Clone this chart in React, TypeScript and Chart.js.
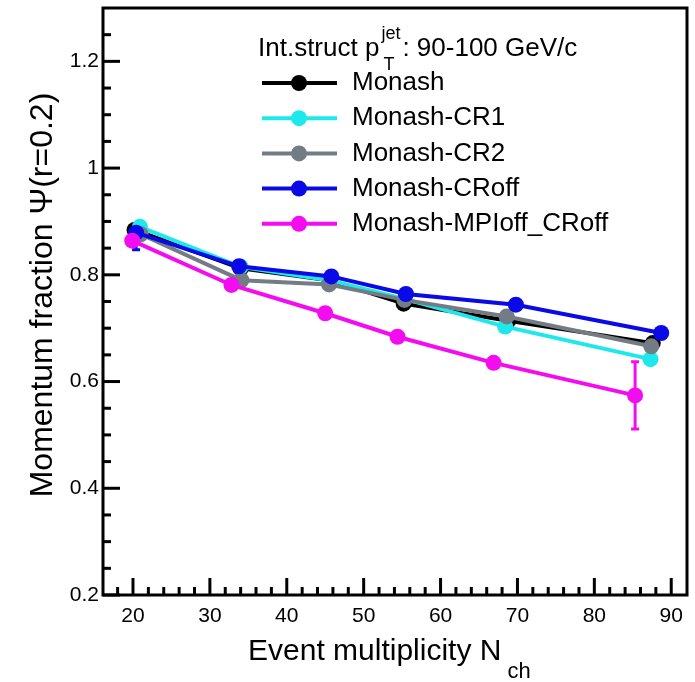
import React, { useEffect, useRef } from "react";
import { Chart, registerables } from "chart.js";
Chart.register(...registerables);

const FONT = "'Liberation Sans', Arial, Helvetica, sans-serif";

const seriesNames = ["Monash", "Monash-CR1", "Monash-CR2", "Monash-CRoff", "Monash-MPIoff_CRoff"];
const seriesColors = ["#000000", "#1fe8ec", "#737c84", "#0a0ae6", "#f40cf0"];

const xMonash = [20.2, 34.0, 45.5, 55.2, 68.8, 87.6];
const yMonash = [0.884, 0.812, 0.79, 0.746, 0.714, 0.672];
const eMonash = [0.006, 0.005, 0.005, 0.005, 0.006, 0.008];

const xCR1 = [20.9, 34.0, 45.5, 55.3, 68.4, 87.3];
const yCR1 = [0.89, 0.815, 0.79, 0.755, 0.703, 0.642];
const eCR1 = [0.006, 0.005, 0.005, 0.005, 0.006, 0.008];

const xCR2 = [21.0, 34.1, 45.5, 55.3, 68.6, 87.4];
const yCR2 = [0.876, 0.79, 0.782, 0.753, 0.722, 0.666];
const eCR2 = [0.006, 0.005, 0.005, 0.005, 0.006, 0.008];

const xCRoff = [20.4, 33.8, 45.8, 55.5, 69.8, 88.7];
const yCRoff = [0.879, 0.816, 0.797, 0.764, 0.744, 0.691];
const eCRoffLow = [0.032, 0.005, 0.005, 0.005, 0.006, 0.008];
const eCRoffHigh = [0.008, 0.005, 0.005, 0.005, 0.006, 0.008];

const xMPIoff = [19.9, 32.8, 45.0, 54.4, 66.9, 85.3];
const yMPIoff = [0.864, 0.781, 0.728, 0.684, 0.635, 0.574];
const eMPIoff = [0.008, 0.006, 0.006, 0.007, 0.008, 0.063];

const xSeries = [xMonash, xCR1, xCR2, xCRoff, xMPIoff];
const ySeries = [yMonash, yCR1, yCR2, yCRoff, yMPIoff];
const eLowSeries = [eMonash, eCR1, eCR2, eCRoffLow, eMPIoff];
const eHighSeries = [eMonash, eCR1, eCR2, eCRoffHigh, eMPIoff];

const xMin = 16.1;
const xMax = 92.05;
const yMin = 0.2;
const yMax = 1.3;

const headerText = "Int.struct p";
const headerSup = "jet";
const headerSub = "T";
const headerRest = ": 90-100 GeV/c";
const yTitle = "Momentum fraction \u03A8(r=0.2)";
const xTitle = "Event multiplicity N";
const xTitleSub = "ch";

const customPlugin = {
  id: "rootStyle",
  beforeDatasetsDraw(chart: any) {
    const ctx = chart.ctx;
    const xs = chart.scales.x;
    const ys = chart.scales.y;
    ctx.save();
    ctx.lineWidth = 3;
    eLowSeries.forEach((errs, si) => {
      ctx.strokeStyle = seriesColors[si];
      errs.forEach((e, i) => {
        const eh = eHighSeries[si][i];
        const px = xs.getPixelForValue(xSeries[si][i]);
        const y1 = ys.getPixelForValue(ySeries[si][i] - e);
        const y2 = ys.getPixelForValue(ySeries[si][i] + eh);
        ctx.beginPath();
        ctx.moveTo(px, y1);
        ctx.lineTo(px, y2);
        ctx.moveTo(px - 4, y1);
        ctx.lineTo(px + 4, y1);
        ctx.moveTo(px - 4, y2);
        ctx.lineTo(px + 4, y2);
        ctx.stroke();
      });
    });
    ctx.restore();
  },
  afterDraw(chart: any) {
    const ctx = chart.ctx;
    const { left, right, top, bottom } = chart.chartArea;
    const xs = chart.scales.x;
    const ys = chart.scales.y;
    ctx.save();
    // frame
    ctx.strokeStyle = "#000";
    ctx.lineWidth = 3;
    ctx.strokeRect(left, top, right - left, bottom - top);
    // y ticks
    ctx.lineWidth = 3;
    for (let k = 0; k <= 22; k++) {
      const v = yMin + k * 0.05;
      if (v > yMax + 1e-9) break;
      const py = ys.getPixelForValue(v);
      if (py <= top + 2) continue;
      const major = k % 4 === 0;
      ctx.beginPath();
      ctx.moveTo(left, py);
      ctx.lineTo(left + (major ? 17 : 8), py);
      ctx.stroke();
    }
    // x ticks
    for (let v = 18; v <= xMax; v += 2) {
      const px = xs.getPixelForValue(v);
      if (px >= right - 2) continue;
      const major = v % 10 === 0;
      ctx.beginPath();
      ctx.moveTo(px, bottom);
      ctx.lineTo(px, bottom - (major ? 17 : 8));
      ctx.stroke();
    }
    // legend header
    ctx.fillStyle = "#000";
    ctx.textBaseline = "alphabetic";
    ctx.textAlign = "left";
    ctx.font = `26px ${FONT}`;
    const hx = 258;
    const hy = 56;
    ctx.fillText(headerText, hx, hy);
    const w1 = ctx.measureText(headerText).width;
    ctx.font = `18px ${FONT}`;
    ctx.fillText(headerSup, hx + w1 + 2, hy - 17);
    ctx.fillText(headerSub, hx + w1 + 4, hy + 14);
    const wSup = ctx.measureText(headerSup).width;
    ctx.font = `26px ${FONT}`;
    ctx.fillText(headerRest, hx + w1 + 4 + wSup, hy);
    // legend entries
    const rowY0 = 83;
    const rowDy = 35.2;
    seriesNames.forEach((name, i) => {
      const cy = rowY0 + i * rowDy;
      ctx.strokeStyle = seriesColors[i];
      ctx.fillStyle = seriesColors[i];
      ctx.lineWidth = 4;
      ctx.beginPath();
      ctx.moveTo(262, cy);
      ctx.lineTo(337, cy);
      ctx.stroke();
      ctx.beginPath();
      ctx.arc(299, cy, 8, 0, Math.PI * 2);
      ctx.fill();
      ctx.fillStyle = "#000";
      ctx.font = `26px ${FONT}`;
      ctx.textBaseline = "middle";
      ctx.fillText(name, 352, cy);
    });
    // y title
    ctx.textBaseline = "middle";
    ctx.textAlign = "center";
    ctx.font = `32px ${FONT}`;
    ctx.save();
    ctx.translate(43, 295);
    ctx.rotate(-Math.PI / 2);
    ctx.fillText(yTitle, 0, 0);
    ctx.restore();
    // x title
    ctx.textAlign = "left";
    ctx.textBaseline = "alphabetic";
    ctx.font = `30px ${FONT}`;
    const tx = 248;
    const ty = 660;
    ctx.fillText(xTitle, tx, ty);
    const tw = ctx.measureText(xTitle).width;
    ctx.font = `22px ${FONT}`;
    ctx.fillText(xTitleSub, tx + tw + 6, ty + 18);
    ctx.restore();
  },
};

export default function App() {
  const ref = useRef<HTMLCanvasElement | null>(null);
  useEffect(() => {
    if (!ref.current) return;
    const order = [5, 4, 3, 2, 1];
    const datasets = seriesNames.map((name, si) => ({
      label: name,
      data: xSeries[si].map((x, i) => ({ x, y: ySeries[si][i] })),
      borderColor: seriesColors[si],
      backgroundColor: seriesColors[si],
      pointBackgroundColor: seriesColors[si],
      pointBorderColor: seriesColors[si],
      pointRadius: 8,
      pointBorderWidth: 0,
      borderWidth: 4,
      tension: 0,
      order: order[si],
    }));
    const chart = new Chart(ref.current, {
      type: "line",
      data: { datasets },
      options: {
        responsive: false,
        animation: false,
        layout: { padding: { top: 8, right: 6, left: 0, bottom: 0 } },
        plugins: { legend: { display: false }, tooltip: { enabled: false } },
        scales: {
          x: {
            type: "linear",
            min: xMin,
            max: xMax,
            afterFit: (s: any) => {
              s.height = 87;
              s.paddingLeft = 0;
              s.paddingRight = 0;
            },
            grid: { display: false, drawTicks: false },
            border: { display: false },
            ticks: {
              stepSize: 10,
              includeBounds: false,
              padding: 9,
              color: "#000",
              font: { family: FONT, size: 21 },
              maxRotation: 0,
              autoSkip: false,
              callback: (v: any) => String(Math.round(Number(v))),
            },
          },
          y: {
            type: "linear",
            min: yMin,
            max: yMax,
            afterFit: (s: any) => {
              s.width = 103;
              s.paddingTop = 0;
              s.paddingBottom = 0;
            },
            grid: { display: false, drawTicks: false },
            border: { display: false },
            ticks: {
              stepSize: 0.2,
              includeBounds: false,
              padding: 4,
              color: "#000",
              font: { family: FONT, size: 21 },
              autoSkip: false,
              callback: (v: any) => String(Number(Number(v).toFixed(2))),
            },
          },
        },
      },
      plugins: [customPlugin],
    } as any);
    return () => chart.destroy();
  }, []);
  return (
    <div style={{ position: "fixed", left: 0, top: 0, width: 695, height: 682, background: "#fff" }}>
      <canvas ref={ref} width={695} height={682} />
    </div>
  );
}
